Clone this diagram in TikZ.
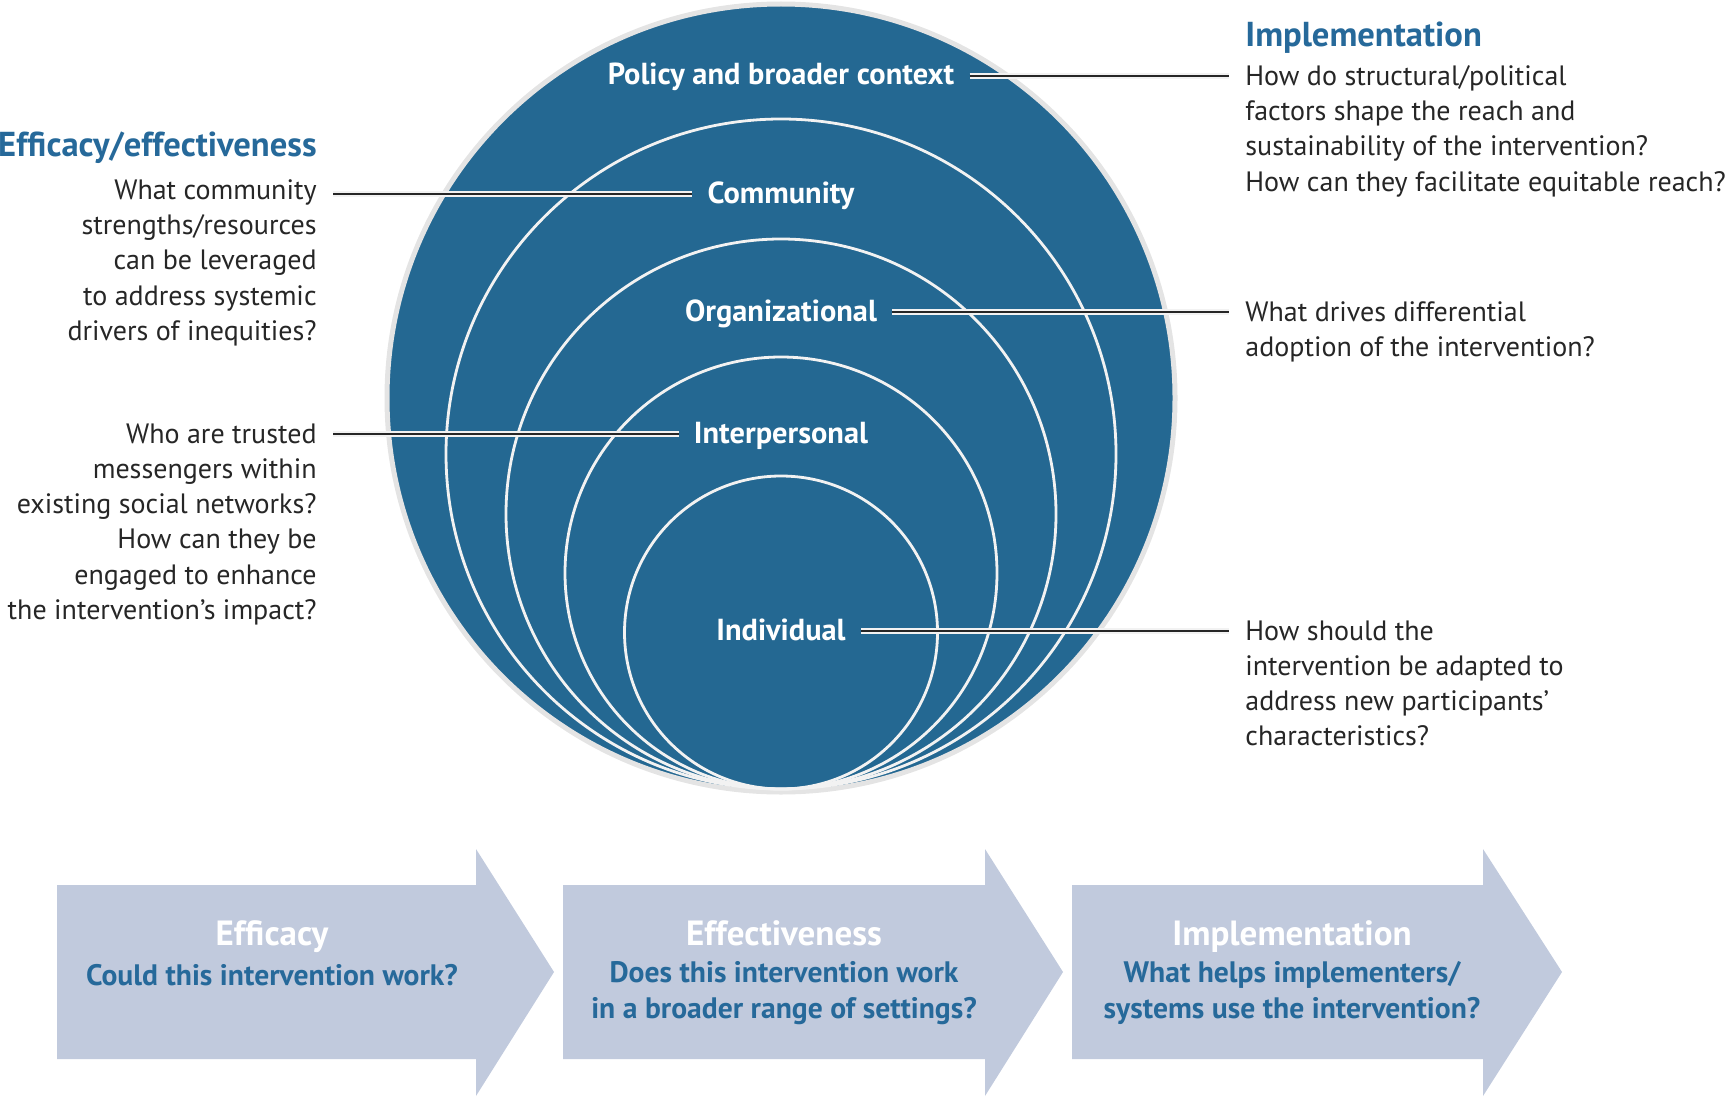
\documentclass[tikz,border=0pt]{standalone}
\usepackage{fontspec}
\setmainfont{PT Sans}
\definecolor{cblue}{HTML}{246892}
\definecolor{hblue}{HTML}{26699A}
\definecolor{arrowc}{HTML}{C1CADD}
\definecolor{rim}{HTML}{E4E4E4}
\definecolor{cline}{HTML}{F2F2F2}
\tikzset{
 lab/.style={text=white, font=\bfseries\fontsize{15.2}{18}\selectfont, inner sep=0, text height=10.5pt, text depth=1.5pt},
 qtext/.style={font=\fontsize{14}{17.65}\selectfont, inner sep=0, text=black!85},
 qleft/.style={qtext, align=right, anchor=north east},
 qright/.style={qtext, align=left, anchor=north west},
 head/.style={text=hblue, font=\bfseries\fontsize{17.3}{20}\selectfont, inner sep=0},
 conn/.style={draw=black!85, line width=1.1pt, preaction={draw=cline, line width=2.8pt}},
 ring/.style={draw=cline, line width=1.4pt},
 flow/.style={fill=arrowc},
 ftitle/.style={text=white, font=\bfseries\fontsize{17.5}{20}\selectfont, inner sep=0, text height=12pt, text depth=3.8pt},
 fsub/.style={text=hblue, font=\bfseries\fontsize{14.8}{17.65}\selectfont, align=center, inner sep=0},
}
\begin{document}
\begin{tikzpicture}[x=0.5pt,y=-0.5pt]
\useasboundingbox (0,0) rectangle (1728,1097);
% circles
\fill[cblue, draw=rim, line width=2.5pt] (781,398) circle (394);
\draw[ring] (781,454) circle (335);
\draw[ring] (781,514) circle (275);
\draw[ring] (781,573) circle (216);
\draw[ring] (781,632.5) circle (156.5);
% labels
\node[lab] (pol) at (781,76) {Policy and broader context};
\node[lab] (com) at (781,194) {Community};
\node[lab] (org) at (781,312) {Organizational};
\node[lab] (inp) at (781,434) {Interpersonal};
\node[lab] (ind) at (781,631) {Individual};
% headings
\node[head, anchor=west] (himp) at (1245,38) {Implementation};
\node[head, anchor=east] (heff) at (317,148) {Efficacy/effectiveness};
% question texts
\node[qright] (q1) at (1245,65) {How do structural/political\\factors shape the reach and\\sustainability of the intervention?\\How can they facilitate equitable reach?};
\node[qright] (q2) at (1245,301) {What drives differential\\adoption of the intervention?};
\node[qright] (q3) at (1245,620) {How should the\\intervention be adapted to\\address new participants’\\characteristics?};
\node[qleft] (q4) at (317,179) {What community\\strengths/resources\\can be leveraged\\to address systemic\\drivers of inequities?};
\node[qleft] (q5) at (317,423) {Who are trusted\\messengers within\\existing social networks?\\How can they be\\engaged to enhance\\the intervention’s impact?};
% connectors
\draw[conn] ([xshift=7.5pt]pol.east) -- ([xshift=-8pt]q1.west |- pol.east);
\draw[conn] ([xshift=7.5pt]org.east) -- ([xshift=-8pt]q2.west |- org.east);
\draw[conn] ([xshift=7.5pt]ind.east) -- ([xshift=-8pt]q3.west |- ind.east);
\draw[conn] ([xshift=8pt]q4.east |- com.west) -- ([xshift=-7.5pt]com.west);
\draw[conn] ([xshift=8pt]q5.east |- inp.west) -- ([xshift=-7.5pt]inp.west);
% flow arrows
\fill[flow] (57,885) -- (476,885) -- (476,849) -- (554,972) -- (476,1096) -- (476,1059) -- (57,1059) -- cycle;
\fill[flow] (563,885) -- (985,885) -- (985,849) -- (1063,972) -- (985,1096) -- (985,1059) -- (563,1059) -- cycle;
\fill[flow] (1072,885) -- (1483,885) -- (1483,849) -- (1562,972) -- (1483,1096) -- (1483,1059) -- (1072,1059) -- cycle;
\node[ftitle] (t1) at (272,937) {Efficacy};
\node[fsub] (s1) at (272,975) {Could this intervention work?};
\node[ftitle] (t2) at (784,937) {Effectiveness};
\node[fsub] (s2) at (784,993) {Does this intervention work\\in a broader range of settings?};
\node[ftitle] (t3) at (1292,937) {Implementation};
\node[fsub] (s3) at (1292,993) {What helps implementers/\\systems use the intervention?};
\end{tikzpicture}
\end{document}
